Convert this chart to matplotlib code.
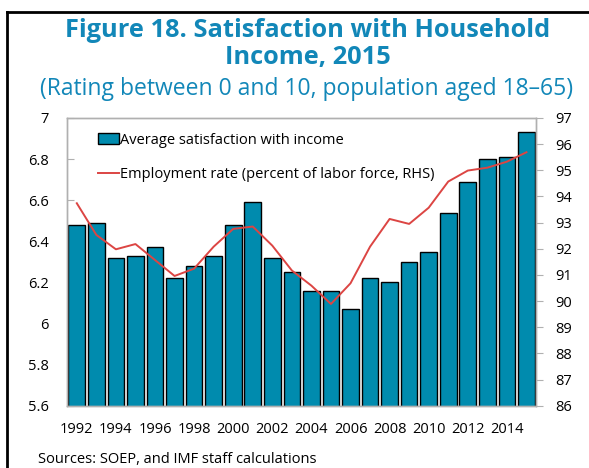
import numpy as np
import matplotlib
matplotlib.use("Agg")
import matplotlib.pyplot as plt
from matplotlib.lines import Line2D
from matplotlib.patches import Patch

plt.rcParams['font.family'] = ['Open Sans', 'DejaVu Sans']

years = list(range(1992, 2016))
satisfaction = [6.48, 6.49, 6.32, 6.33, 6.37, 6.22, 6.28, 6.33, 6.48, 6.59,
                6.32, 6.25, 6.16, 6.16, 6.07, 6.22, 6.20, 6.30, 6.35, 6.54,
                6.69, 6.80, 6.81, 6.93]
employment = [93.74, 92.53, 91.98, 92.18, 91.57, 90.96, 91.24, 92.08, 92.76, 92.85,
              92.12, 91.17, 90.59, 89.89, 90.68, 92.08, 93.14, 92.95, 93.57, 94.57,
              94.99, 95.10, 95.33, 95.69]
xticks = list(range(1992, 2015, 2))

bar_color = '#008bae'
line_color = '#dc4543'
title_color = '#1287b8'
grey = '#b0b0b0'

fig = plt.figure(figsize=(5.89, 4.68), dpi=100)
ax = fig.add_axes([0.1138, 0.1331, 0.7966, 0.6148])

ax.bar(years, satisfaction, width=0.85, color=bar_color, edgecolor='black', linewidth=1.0, zorder=2)
ax.set_ylim(5.6, 7.0)
ax.set_xlim(1991.5, 2015.5)
ax.set_yticks(np.arange(5.6, 7.01, 0.2))
ax.set_yticklabels(['5.6', '5.8', '6', '6.2', '6.4', '6.6', '6.8', '7'])
ax.set_xticks(xticks)
ax.set_xticklabels([str(y) for y in xticks])
ax.tick_params(axis='y', direction='in', length=5, color=grey, labelsize=10.5, pad=13)
ax.tick_params(axis='x', length=0, labelsize=10.5, pad=12)

ax2 = ax.twinx()
ax2.plot(years, employment, color=line_color, linewidth=1.4, zorder=3)
ax2.set_ylim(86, 97)
ax2.set_yticks(range(86, 98))
ax2.tick_params(axis='y', direction='out', length=5, color=grey, labelsize=10.5, pad=9)

for a in (ax, ax2):
    for s in a.spines.values():
        s.set_color(grey)
        s.set_linewidth(1.0)

handles = [Patch(facecolor=bar_color, edgecolor='black', linewidth=1.0),
           Line2D([0], [0], color=line_color, linewidth=1.4)]
labels = ['Average satisfaction with income',
          'Employment rate (percent of labor force, RHS)']
ax2.legend(handles, labels, loc='upper left', bbox_to_anchor=(0.045, 0.985),
           frameon=False, fontsize=10.5, handlelength=1.4, handletextpad=0.1,
           labelspacing=1.35, borderaxespad=0.3)

fig.text(0.522, 0.962, 'Figure 18. Satisfaction with Household\nIncome, 2015',
         ha='center', va='top', fontsize=18.3, fontweight='bold',
         color=title_color, linespacing=1.14)
fig.text(0.52, 0.81, '(Rating between 0 and 10, population aged 18\u201365)',
         ha='center', va='center', fontsize=16.5, color=title_color)
fig.text(0.065, 0.003, 'Sources: SOEP, and IMF staff calculations',
         ha='left', va='bottom', fontsize=10.5)

# frame lines along the top and left edge of the figure
fig.add_artist(Line2D([0.0127, 0.0127], [0.0, 0.975], color='black', linewidth=2.0))
fig.add_artist(Line2D([0.0127, 1.0], [0.975, 0.975], color='black', linewidth=2.0))

fig.savefig('out.png', dpi=100)
